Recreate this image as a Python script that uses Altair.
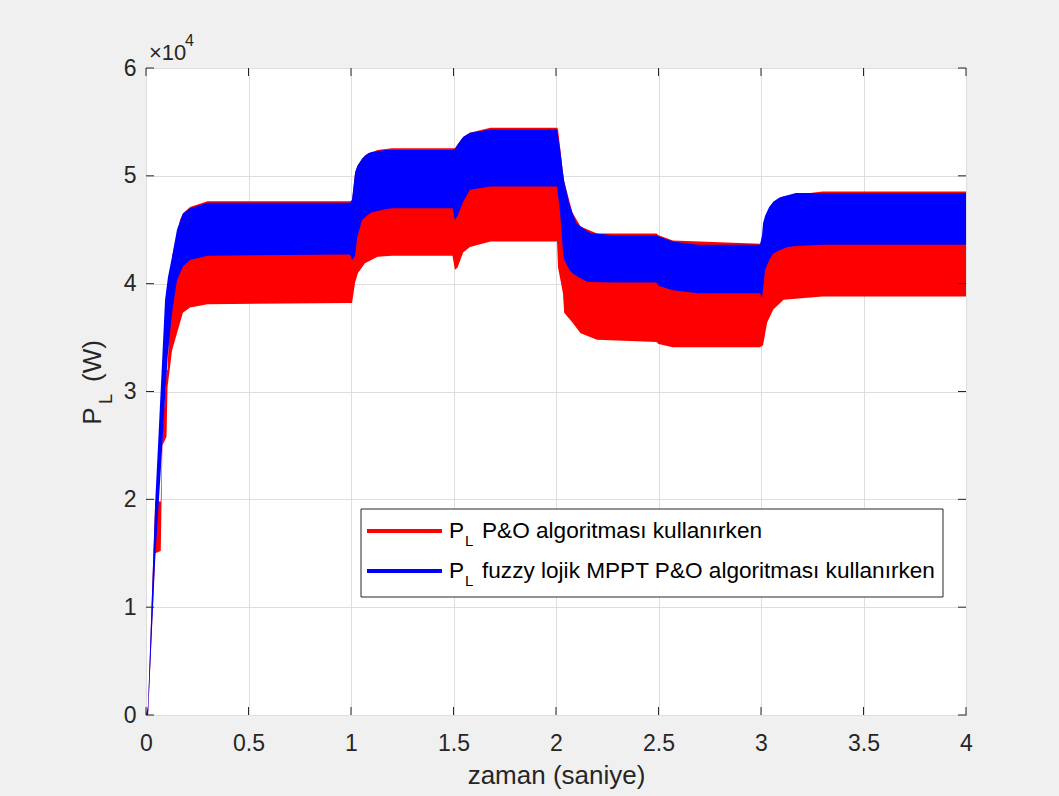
import altair as alt
import pandas as pd

# ---------------- data ----------------
# fuzzy logic MPPT P&O : envelope of the oscillating power band
blue_t = [0.000, 0.010, 0.045, 0.060, 0.078, 0.093, 0.107, 0.127, 0.151, 0.180, 0.215, 0.300,
          0.995, 1.005, 1.020, 1.030, 1.044, 1.054, 1.083, 1.100, 1.166, 1.200,
          1.495, 1.507, 1.520, 1.547, 1.580, 1.680,
          2.005, 2.020, 2.034, 2.040, 2.065, 2.080, 2.100, 2.150, 2.170, 2.280,
          2.490, 2.500, 2.570, 2.690, 2.995,
          3.005, 3.010, 3.020, 3.040, 3.060, 3.090, 3.130, 3.170, 3.300, 4.000]
blue_hi = [0, 900, 19800, 25500, 32600, 38500, 40600, 42500, 45000, 46500, 47000, 47500,
           47500, 47800, 50300, 50900, 51300, 51600, 52100, 52200, 52400, 52400,
           52400, 52500, 52900, 53600, 54000, 54300,
           54300, 52500, 50300, 49500, 47400, 46600, 45600, 44900, 44700, 44500,
           44500, 44400, 43900, 43600, 43600,
           44500, 45600, 46300, 47100, 47600, 48000, 48200, 48400, 48400, 48400]
blue_lo = [0, 0, 14500, 19000, 24500, 29500, 33500, 37300, 40300, 41600, 42200, 42600,
           42700, 42200, 42600, 44300, 45200, 45900, 46400, 46600, 46900, 47000,
           47000, 45900, 46300, 47600, 48700, 49000,
           49000, 46600, 43000, 42200, 41300, 41000, 40700, 40200, 40150, 40100,
           40100, 39800, 39400, 39100, 39100,
           38700, 39500, 41300, 42200, 42800, 43100, 43400, 43500, 43600, 43600]

# classic P&O : envelope of the oscillating power band
red_t = [0.000, 0.010, 0.045, 0.072, 0.080, 0.100, 0.105, 0.127, 0.166, 0.180, 0.215, 0.300,
         0.995, 1.005, 1.020, 1.034, 1.068, 1.130, 1.200,
         1.495, 1.507, 1.520, 1.547, 1.580, 1.680,
         2.005, 2.010, 2.034, 2.040, 2.080, 2.120, 2.200,
         2.490, 2.500, 2.570, 2.995,
         3.010, 3.030, 3.060, 3.110, 3.300, 4.000]
red_hi = [0, 600, 19800, 19800, 26000, 32000, 32000, 42500, 45900, 46500, 47100, 47650,
          47650, 47650, 50300, 51000, 51900, 52400, 52550,
          52550, 52550, 52900, 53600, 54000, 54450,
          54450, 54300, 50300, 49500, 46600, 45300, 44650,
          44650, 44500, 44000, 43700,
          44000, 46000, 47600, 48100, 48550, 48550]
red_lo = [0, 0, 15000, 15200, 25000, 25800, 30400, 33800, 36400, 37300, 37800, 38100,
          38200, 38200, 40100, 41000, 41900, 42500, 42600,
          42600, 41300, 41500, 42900, 43400, 43900,
          43900, 41500, 39100, 37300, 36400, 35400, 34800,
          34600, 34400, 34100, 34100,
          34300, 36400, 37600, 38500, 38800, 38800]

x_ticks = [0, 0.5, 1, 1.5, 2, 2.5, 3, 3.5, 4]
y_ticks = [0, 10000, 20000, 30000, 40000, 50000, 60000]

legend_main = ["P&O algoritması kullanırken",
               "fuzzy lojik MPPT P&O algoritması kullanırken"]
legend_colors = ["#ff0000", "#0000ff"]

# ---------------- tables ----------------
red_df = pd.DataFrame({"t": red_t, "hi": red_hi, "lo": red_lo})
blue_df = pd.DataFrame({"t": blue_t, "hi": blue_hi, "lo": blue_lo})
xt_df = pd.DataFrame({"t": x_ticks})
yt_df = pd.DataFrame({"lo": y_ticks})

W, H = 820, 647
FONT = "Liberation Sans"
INK = "#262626"

xscale = alt.Scale(domain=[0, 4], nice=False, zero=False)
yscale = alt.Scale(domain=[0, 60000], nice=False)

red = alt.Chart(red_df).mark_area(color="#ff0000", opacity=1, interpolate="linear").encode(
    x=alt.X("t:Q", scale=xscale,
            axis=alt.Axis(values=x_ticks, format="~g", title="zaman (saniye)", grid=True,
                          ticks=False, domain=False, labelFontSize=23, labelPadding=17,
                          labelColor=INK, labelFont=FONT, titleFont=FONT, titleFontSize=26,
                          titleFontWeight="normal", titleColor=INK, titlePadding=7,
                          gridColor="#dedede", gridWidth=1, labelFlush=False)),
    y=alt.Y("lo:Q", scale=yscale,
            axis=alt.Axis(values=y_ticks, title="", grid=True, ticks=False, domain=False,
                          labelExpr="datum.value / 10000", labelFontSize=23,
                          labelPadding=10, labelColor=INK, labelFont=FONT,
                          gridColor="#dedede", gridWidth=1, labelFlush=False)),
    y2="hi:Q",
)

blue = alt.Chart(blue_df).mark_area(color="#0000ff", opacity=1, interpolate="linear").encode(
    x=alt.X("t:Q", scale=xscale),
    y=alt.Y("lo:Q", scale=yscale),
    y2="hi:Q",
)

# inward ticks (bottom/top/left/right) like MATLAB
tick_len = 8
xt_bottom = alt.Chart(xt_df).mark_rule(color=INK, strokeWidth=1).encode(
    x=alt.X("t:Q", scale=xscale), y=alt.value(H - tick_len), y2=alt.value(H))
xt_top = alt.Chart(xt_df).mark_rule(color=INK, strokeWidth=1).encode(
    x=alt.X("t:Q", scale=xscale), y=alt.value(0), y2=alt.value(tick_len))
yt_left = alt.Chart(yt_df).mark_rule(color=INK, strokeWidth=1).encode(
    y=alt.Y("lo:Q", scale=yscale), x=alt.value(0), x2=alt.value(tick_len))
yt_right = alt.Chart(yt_df).mark_rule(color=INK, strokeWidth=1).encode(
    y=alt.Y("lo:Q", scale=yscale), x=alt.value(W - tick_len), x2=alt.value(W))

one = pd.DataFrame({"k": [0]})

# exponent label  x10^4
exp_base = alt.Chart(one).mark_text(text="×10", font=FONT, fontSize=22, color=INK,
                                    align="left", baseline="middle").encode(
    x=alt.value(3), y=alt.value(-15))
exp_pow = alt.Chart(one).mark_text(text="4", font=FONT, fontSize=16, color=INK,
                                   align="left", baseline="middle").encode(
    x=alt.value(39), y=alt.value(-27))

# y title  P_L (W)
yt_P = alt.Chart(one).mark_text(text="P", font=FONT, fontSize=26, color=INK, angle=270,
                                align="center", baseline="middle").encode(
    x=alt.value(-53), y=alt.value(348))
yt_L = alt.Chart(one).mark_text(text="L", font=FONT, fontSize=18, color=INK, angle=270,
                                align="center", baseline="middle").encode(
    x=alt.value(-39), y=alt.value(331))
yt_W = alt.Chart(one).mark_text(text="(W)", font=FONT, fontSize=26, color=INK, angle=270,
                                align="center", baseline="middle").encode(
    x=alt.value(-53), y=alt.value(293))

# legend box
LX0, LX1, LY0, LY1 = 215, 797, 441, 529
leg_box = alt.Chart(one).mark_rect(fill="white", stroke=INK, strokeWidth=1).encode(
    x=alt.value(LX0), x2=alt.value(LX1), y=alt.value(LY0), y2=alt.value(LY1))

leg_layers = []
row_y = [463, 503]
for i in range(2):
    leg_layers.append(alt.Chart(one).mark_rule(color=legend_colors[i], strokeWidth=4).encode(
        x=alt.value(221), x2=alt.value(296), y=alt.value(row_y[i])))
    leg_layers.append(alt.Chart(one).mark_text(text="P", font=FONT, fontSize=22.6, color="black",
                                               align="left", baseline="middle").encode(
        x=alt.value(303), y=alt.value(row_y[i])))
    leg_layers.append(alt.Chart(one).mark_text(text="L", font=FONT, fontSize=15, color="black",
                                               align="left", baseline="middle").encode(
        x=alt.value(319), y=alt.value(row_y[i] + 10)))
    leg_layers.append(alt.Chart(one).mark_text(text=legend_main[i], font=FONT, fontSize=22.6,
                                               color="black", align="left",
                                               baseline="middle").encode(
        x=alt.value(336), y=alt.value(row_y[i])))

chart = alt.layer(
    red, blue, xt_bottom, xt_top, yt_left, yt_right,
    exp_base, exp_pow, yt_P, yt_L, yt_W, leg_box, *leg_layers
).properties(
    width=W, height=H, background="#f0f0f0",
    autosize=alt.AutoSizeParams(type="none"),
    padding={"left": 146, "top": 68, "right": 93, "bottom": 81},
).configure_view(
    fill="white", stroke=INK, strokeWidth=1
)

chart.save("out.html", embed_options={"renderer": "svg", "actions": False})
